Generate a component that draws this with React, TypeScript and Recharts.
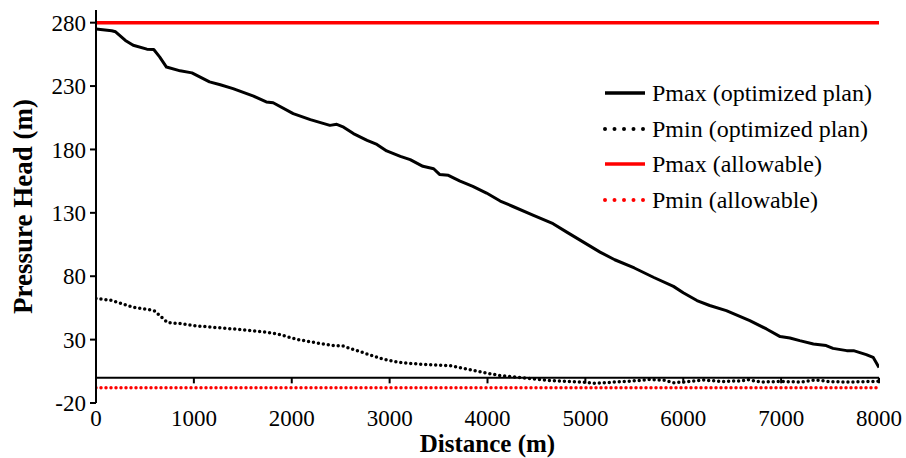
import React from "react";
import {
    LineChart,
    Line,
    XAxis,
    YAxis,
    ReferenceLine,
    Legend,
} from "recharts";

const FONT = "Liberation Serif";

// axis ticks
const X_TICKS = [0, 1000, 2000, 3000, 4000, 5000, 6000, 7000, 8000];
const Y_TICKS = [-20, 30, 80, 130, 180, 230, 280];

// Pmax (optimized plan)
const PMAX_DIST = [
    0, 160, 200, 300, 380, 520, 590, 650, 720, 860, 980, 1160, 1270, 1400, 1610, 1740,
    1810, 2015, 2190, 2390, 2460, 2530, 2630, 2770, 2870, 2970, 3110, 3210, 3340, 3450,
    3510, 3600, 3720, 3850, 3990, 4130, 4260, 4470, 4670, 4810, 4980, 5150, 5300, 5500,
    5700, 5900, 6000, 6140, 6270, 6440, 6680, 6850, 6990, 7090, 7190, 7330, 7460, 7530,
    7670, 7740, 7870, 7940, 8000,
];
const PMAX_VALUES = [
    275, 273.6, 272.8, 266, 262.2, 259.1, 258.8, 253, 245, 242, 240.4, 233.3, 231, 228,
    222, 217.5, 216.8, 208.3, 203.5, 199, 199.8, 197.6, 192.5, 187.2, 184, 178.8, 174.6,
    172, 166.7, 164.8, 160.3, 159.6, 155, 150.9, 145.6, 139.3, 135, 128, 121.4, 114.8,
    106.9, 99, 93, 86.5, 79, 72, 67, 60.8, 56.9, 52.9, 45, 38.4, 32.4, 31.3, 29.2, 26.6,
    25.3, 23.1, 21.3, 21.3, 18.2, 16, 8.1,
];

// Pmin (optimized plan)
const PMIN_DIST = [
    0, 150, 250, 380, 550, 600, 650, 730, 890, 1000, 1200, 1400, 1600, 1750, 1850, 1980,
    2080, 2250, 2420, 2520, 2770, 2930, 3100, 3280, 3440, 3620, 3790, 3950, 4130, 4300,
    4460, 4640, 4810, 5010, 5100, 5300, 5500, 5650, 5800, 5900, 6000, 6200, 6400, 6600,
    6650, 6800, 7000, 7200, 7350, 7500, 7700, 8000,
];
const PMIN_VALUES = [
    62.5, 61, 58.7, 55.5, 53.5, 52.5, 49, 43.5, 42.4, 41, 39.7, 38.4, 37, 35.8, 34.5, 31.8,
    29.8, 27.5, 25.3, 25, 18.7, 14.7, 12, 10.8, 10, 9.5, 6.8, 4.2, 1.6, 0.3, -1, -2.4, -2.9,
    -3.7, -4.5, -3.5, -2.5, -1.5, -2, -4, -3.5, -1.8, -3, -2.5, -1.5, -3.5, -3, -3.5, -1.8,
    -3.2, -3.5, -2.8,
];

// allowable limits
const LIMIT_DIST = [0, 8000];
const PMAX_ALLOWABLE = [280, 280];
const PMIN_ALLOWABLE = [-8, -8];

const toRows = (xs: number[], ys: number[]) => xs.map((d, i) => ({ d, v: ys[i] }));

const pmaxData = toRows(PMAX_DIST, PMAX_VALUES);
const pminData = toRows(PMIN_DIST, PMIN_VALUES);
const pmaxAllowData = toRows(LIMIT_DIST, PMAX_ALLOWABLE);
const pminAllowData = toRows(LIMIT_DIST, PMIN_ALLOWABLE);

const LEGEND_ITEMS = [
    { label: "Pmax (optimized plan)", color: "#000", dotted: false },
    { label: "Pmin (optimized plan)", color: "#000", dotted: true },
    { label: "Pmax (allowable)", color: "#ff0000", dotted: false },
    { label: "Pmin (allowable)", color: "#ff0000", dotted: true },
];

function renderLegend() {
    return (
        <div style={{ fontFamily: FONT, fontSize: 24, color: "#000" }}>
            {LEGEND_ITEMS.map((it) => (
                <div key={it.label} style={{ display: "flex", alignItems: "center", height: 35.7 }}>
                    <svg width={46} height={10} style={{ marginRight: 4 }}>
                        <line
                            x1={3}
                            y1={5}
                            x2={43}
                            y2={5}
                            stroke={it.color}
                            strokeWidth={it.dotted ? 4 : 3.5}
                            strokeDasharray={it.dotted ? "0 9.5" : undefined}
                            strokeLinecap={it.dotted ? "round" : "butt"}
                        />
                    </svg>
                    <span style={{ whiteSpace: "nowrap", lineHeight: 1 }}>{it.label}</span>
                </div>
            ))}
        </div>
    );
}

export default function App() {
    // fixed at the page origin so the 8px body margin never causes scrollbars
    return (
        <div style={{ position: "fixed", left: 0, top: 0, fontFamily: FONT, background: "#fff" }}>
            <LineChart
                width={906}
                height={458}
                margin={{ top: 10, right: 27, left: 26, bottom: 0 }}
            >
                <XAxis
                    type="number"
                    dataKey="d"
                    domain={[0, 8000]}
                    ticks={X_TICKS}
                    allowDataOverflow
                    axisLine={false}
                    tickLine={false}
                    tickMargin={1}
                    height={55}
                    interval={0}
                    tick={{ fill: "#000", fontSize: 23, fontFamily: FONT }}
                    label={{
                        content: ({ viewBox }: any) => (
                            <text
                                x={viewBox.x + viewBox.width / 2}
                                y={viewBox.y + 49}
                                textAnchor="middle"
                                fontFamily={FONT}
                                fontWeight="bold"
                                fontSize={25}
                                fill="#000"
                            >
                                Distance (m)
                            </text>
                        ),
                    }}
                />
                <YAxis
                    type="number"
                    dataKey="v"
                    domain={[-20, 290]}
                    ticks={Y_TICKS}
                    allowDataOverflow
                    width={70}
                    tickSize={6}
                    tickMargin={4}
                    interval={0}
                    axisLine={{ stroke: "#000", strokeWidth: 2 }}
                    tickLine={{ stroke: "#000", strokeWidth: 2 }}
                    tick={{ fill: "#000", fontSize: 23, fontFamily: FONT }}
                    label={{
                        content: ({ viewBox }: any) => {
                            const cx = viewBox.x - 3;
                            const cy = viewBox.y + viewBox.height / 2;
                            return (
                                <text
                                    x={cx}
                                    y={cy}
                                    transform={`rotate(-90, ${cx}, ${cy})`}
                                    textAnchor="middle"
                                    dominantBaseline="central"
                                    fontFamily={FONT}
                                    fontWeight="bold"
                                    fontSize={27}
                                    fill="#000"
                                >
                                    Pressure Head (m)
                                </text>
                            );
                        },
                    }}
                />
                <Legend
                    layout="vertical"
                    align="center"
                    verticalAlign="middle"
                    content={renderLegend}
                    wrapperStyle={{ left: 602, top: 75, width: 300, height: 150 }}
                />
                {/* x-axis drawn at zero */}
                <ReferenceLine y={0} stroke="#000" strokeWidth={2} />
                {X_TICKS.map((t) => (
                    <ReferenceLine
                        key={t}
                        segment={[
                            { x: t, y: 0 },
                            { x: t, y: -4.5 },
                        ]}
                        stroke="#000"
                        strokeWidth={2}
                    />
                ))}
                <Line
                    data={pminAllowData}
                    dataKey="v"
                    stroke="#ff0000"
                    strokeWidth={3.5}
                    strokeDasharray="0 5"
                    strokeLinecap="round"
                    dot={false}
                    activeDot={false}
                    isAnimationActive={false}
                />
                <Line
                    data={pmaxAllowData}
                    dataKey="v"
                    stroke="#ff0000"
                    strokeWidth={3.5}
                    dot={false}
                    activeDot={false}
                    isAnimationActive={false}
                />
                <Line
                    data={pminData}
                    dataKey="v"
                    stroke="#000"
                    strokeWidth={3.5}
                    strokeDasharray="0 5"
                    strokeLinecap="round"
                    dot={false}
                    activeDot={false}
                    isAnimationActive={false}
                />
                <Line
                    data={pmaxData}
                    dataKey="v"
                    stroke="#000"
                    strokeWidth={3}
                    strokeLinejoin="round"
                    dot={false}
                    activeDot={false}
                    isAnimationActive={false}
                />
            </LineChart>
        </div>
    );
}
